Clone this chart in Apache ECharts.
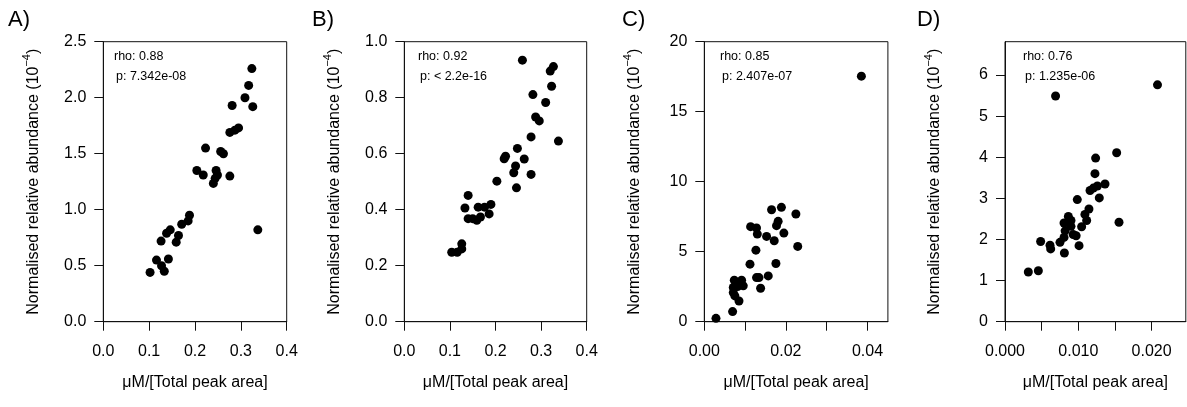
<!DOCTYPE html>
<html>
<head>
<meta charset="utf-8">
<script src="https://cdn.jsdelivr.net/npm/echarts@6/dist/echarts.min.js"></script>
<style>
html,body{margin:0;padding:0;background:#fff;}
#chart{width:1187px;height:407px;}
</style>
</head>
<body>
<div id="chart"></div>
<script>
// ---- Data ----
const panelLabels = ['A)', 'B)', 'C)', 'D)'];
const rhoTexts = ['rho: 0.88', 'rho: 0.92', 'rho: 0.85', 'rho: 0.76'];
const pTexts = ['p: 7.342e-08', 'p: < 2.2e-16', 'p: 2.407e-07', 'p: 1.235e-06'];

const aX = [0.102,0.116,0.127,0.133,0.126,0.142,0.138,0.146,0.159,0.164,0.171,0.185,0.188,0.204,0.218,0.223,0.240,0.244,0.246,0.249,0.256,0.262,0.276,0.276,0.281,0.287,0.295,0.309,0.317,0.324,0.326,0.337];
const aY = [0.44,0.55,0.50,0.45,0.72,0.56,0.79,0.82,0.71,0.77,0.87,0.90,0.95,1.35,1.31,1.55,1.235,1.28,1.35,1.31,1.52,1.50,1.30,1.69,1.93,1.71,1.73,2.00,2.11,2.26,1.92,0.82];

const bX = [0.104,0.116,0.126,0.126,0.133,0.140,0.140,0.150,0.159,0.162,0.167,0.176,0.186,0.190,0.203,0.219,0.222,0.240,0.244,0.246,0.248,0.259,0.263,0.278,0.278,0.282,0.288,0.296,0.310,0.320,0.323,0.327,0.338];
const bY = [0.248,0.248,0.260,0.278,0.406,0.451,0.368,0.368,0.362,0.409,0.374,0.409,0.385,0.419,0.502,0.582,0.591,0.532,0.556,0.478,0.619,0.934,0.581,0.526,0.660,0.811,0.731,0.717,0.783,0.895,0.841,0.911,0.645];

const cX = [0.00286,0.00694,0.00735,0.00914,0.0071,0.00816,0.00955,0.0071,0.0075,0.0085,0.0112,0.01135,0.0128,0.0130,0.01265,0.0128,0.0134,0.0138,0.01527,0.01567,0.01649,0.01714,0.01755,0.0177,0.0181,0.0189,0.0195,0.02245,0.0229,0.0385];
const cY = [0.24,0.72,2.96,2.96,2.44,2.51,2.56,2.08,1.84,1.48,4.11,6.79,6.69,6.26,5.11,3.15,3.15,2.39,6.09,3.27,8.0,5.78,4.16,6.86,7.17,8.17,6.33,7.69,5.38,17.54];

const dX = [0.00318,0.00455,0.00486,0.00614,0.00623,0.0081,0.0075,0.00805,0.00805,0.0082,0.00864,0.009,0.009,0.0093,0.0097,0.0101,0.00986,0.01045,0.0109,0.01114,0.01145,0.0116,0.01205,0.01227,0.01236,0.0126,0.01286,0.01364,0.01523,0.01555,0.0069,0.0208];
const dY = [1.21,1.24,1.95,1.86,1.77,1.67,1.93,2.05,2.40,2.21,2.56,2.46,2.32,2.12,2.09,1.85,2.97,2.31,2.61,2.46,2.74,3.19,3.25,3.60,3.98,3.30,3.01,3.35,4.11,2.42,5.49,5.76];

// tick positions and labels
const aXTicks = [0, 0.1, 0.2, 0.3, 0.4];
const aYTicks = [0, 0.5, 1.0, 1.5, 2.0, 2.5];
const bXTicks = [0, 0.1, 0.2, 0.3, 0.4];
const bYTicks = [0, 0.2, 0.4, 0.6, 0.8, 1.0];
const cXTicks = [0, 0.01, 0.02, 0.03, 0.04];
const cXLabels = [0, 0.02, 0.04];
const cYTicks = [0, 5, 10, 15, 20];
const dXTicks = [0, 0.005, 0.01, 0.015, 0.02];
const dXLabels = [0, 0.01, 0.02];
const dYTicks = [0, 1, 2, 3, 4, 5, 6];

// ---- Layout ----
const panels = [
  {x: aX, y: aY, left: 103.3, width: 183.4, xmin: 0, xmax: 0.4, ymin: 0, ymax: 2.5,
   xTicks: aXTicks, xLabels: aXTicks, yTicks: aYTicks, xDec: 1, yDec: 1, annX: 114},
  {x: bX, y: bY, left: 404.3, width: 182.4, xmin: 0, xmax: 0.4, ymin: 0, ymax: 1.0,
   xTicks: bXTicks, xLabels: bXTicks, yTicks: bYTicks, xDec: 1, yDec: 1, annX: 418},
  {x: cX, y: cY, left: 704.3, width: 183.6, xmin: 0, xmax: 0.045, ymin: 0, ymax: 20,
   xTicks: cXTicks, xLabels: cXLabels, yTicks: cYTicks, xDec: 2, yDec: 0, annX: 720},
  {x: dX, y: dY, left: 1005, width: 180.8, xmin: 0, xmax: 0.02466, ymin: 0, ymax: 6.81,
   xTicks: dXTicks, xLabels: dXLabels, yTicks: dYTicks, xDec: 3, yDec: 0, annX: 1023}
];
const labelX = [8, 312, 622, 917];
const TOP = 41.7, HEIGHT = 280;
const FONT = 'Liberation Sans, Arial, sans-serif';

const grid = [], xAxis = [], yAxis = [], series = [], graphic = [];
panels.forEach((p, i) => {
  grid.push({left: p.left, top: TOP, width: p.width, height: HEIGHT, show: true,
    borderColor: '#111', borderWidth: 1, backgroundColor: 'transparent'});
  xAxis.push({
    type: 'value', gridIndex: i, min: p.xmin, max: p.xmax,
    name: 'μM/[Total peak area]', nameLocation: 'middle', nameGap: 53,
    nameTextStyle: {fontFamily: FONT, fontSize: 16, color: '#000'},
    axisLine: {show: true, onZero: false, lineStyle: {color: '#111', width: 1}},
    axisTick: {show: true, length: 9, inside: false, customValues: p.xTicks, lineStyle: {color: '#111'}},
    axisLabel: {show: true, margin: 22, fontFamily: FONT, fontSize: 16, color: '#000',
      customValues: p.xLabels, formatter: v => Number(v).toFixed(p.xDec)},
    splitLine: {show: false}
  });
  yAxis.push({
    type: 'value', gridIndex: i, min: p.ymin, max: p.ymax,
    name: '{a|Normalised relative abundance (10}{s|−4}{a|)}', nameLocation: 'middle', nameGap: 62,
    nameRotate: 90,
    nameTextStyle: {fontFamily: FONT, fontSize: 16, color: '#000',
      rich: {a: {fontFamily: FONT, fontSize: 16, color: '#000', lineHeight: 20, verticalAlign: 'bottom'},
             s: {fontFamily: FONT, fontSize: 11, color: '#000', lineHeight: 20, verticalAlign: 'top', padding: [0, 0, 6, 0]}}},
    axisLine: {show: true, onZero: false, lineStyle: {color: '#111', width: 1}},
    axisTick: {show: true, length: 9, inside: false, customValues: p.yTicks, lineStyle: {color: '#111'}},
    axisLabel: {show: true, margin: 17, fontFamily: FONT, fontSize: 16, color: '#000',
      customValues: p.yTicks, formatter: v => Number(v).toFixed(p.yDec)},
    splitLine: {show: false}
  });
  series.push({
    type: 'scatter', xAxisIndex: i, yAxisIndex: i,
    data: p.x.map((v, k) => [v, p.y[k]]),
    symbol: 'circle', symbolSize: 9,
    itemStyle: {color: '#000', opacity: 1}, emphasis: {disabled: true}, animation: false
  });
  graphic.push({type: 'text', left: labelX[i], top: 9,
    style: {text: panelLabels[i], font: '22px ' + FONT, fill: '#000'}});
  graphic.push({type: 'text', x: p.annX, y: 57,
    style: {text: rhoTexts[i], font: '12.5px ' + FONT, fill: '#000', verticalAlign: 'middle'}});
  graphic.push({type: 'text', x: p.annX + 2, y: 77,
    style: {text: pTexts[i], font: '12.5px ' + FONT, fill: '#000', verticalAlign: 'middle'}});
});

const chart = echarts.init(document.getElementById('chart'), null, {renderer: 'canvas'});
chart.setOption({
  animation: false,
  backgroundColor: '#fff',
  grid, xAxis, yAxis, series, graphic
});
</script>
</body>
</html>
